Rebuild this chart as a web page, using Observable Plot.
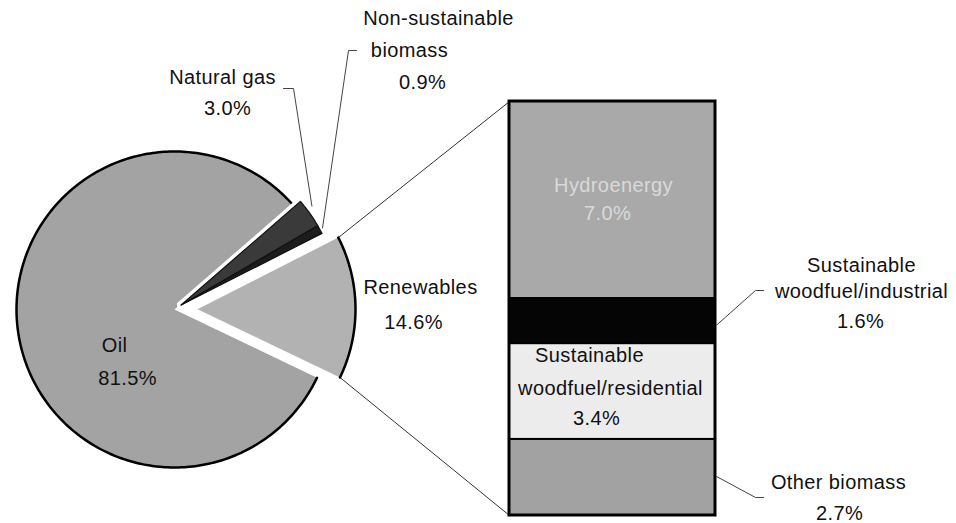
<!DOCTYPE html>
<html><head><meta charset="utf-8">
<script src="https://cdn.jsdelivr.net/npm/d3@7"></script>
<script src="https://cdn.jsdelivr.net/npm/@observablehq/plot@0.6"></script>
<style>html,body{margin:0;padding:0;background:#fff}</style>
</head><body><div id="chart"></div>
<script>
// ---- data ----
const pieCategories = ["Renewables", "Non-sustainable biomass", "Natural gas", "Oil"];
const pieValues = [14.6, 0.9, 3.0, 81.5];
const barCategories = ["Hydroenergy", "Sustainable woodfuel/industrial", "Sustainable woodfuel/residential", "Other biomass"];
const barValues = [7.0, 1.6, 3.4, 2.7];
const pieLabelLines = [["Renewables"], ["Non-sustainable", "biomass"], ["Natural gas"], ["Oil"]];
const barLabelLines = [["Hydroenergy"], ["Sustainable", "woodfuel/industrial"], ["Sustainable", "woodfuel/residential"], ["Other biomass"]];

// ---- layout / style ----
const W = 956, H = 523;
const C = [174, 309], R = 158;
const startDeg = -25.6;                    // lower edge of the renewables wedge (counter-clockwise)
const pieFill = {"Renewables": "#b2b2b2", "Non-sustainable biomass": "#1c1c1c", "Natural gas": "#3a3a3a", "Oil": "#a3a3a3"};
const explodeGroup = {"Renewables": "ren", "Non-sustainable biomass": "fos", "Natural gas": "fos", "Oil": "oil"};
const explodeDist = {ren: 23, fos: 8, oil: 0};
const barBox = {x1: 509, x2: 715, y1: 101, y2: 515};
const barFill = {"Hydroenergy": "#a9a9a9", "Sustainable woodfuel/industrial": "#050505", "Sustainable woodfuel/residential": "#ececec", "Other biomass": "#a2a2a2"};
// label placement: [x, y] per line (name lines..., value line)
const pieLabelPos = {
  "Renewables": [[420, 287], [413, 322]],
  "Non-sustainable biomass": [[438, 18], [409, 50], [422, 82]],
  "Natural gas": [[222, 77], [227, 108]],
  "Oil": [[114, 345], [127, 378]]
};
const barLabelPos = {
  "Hydroenergy": [[613, 185], [607, 213]],
  "Sustainable woodfuel/industrial": [[861, 265], [861, 291], [860, 321]],
  "Sustainable woodfuel/residential": [[589, 355], [610, 388], [596, 418]],
  "Other biomass": [[838, 482], [839, 513]]
};
const barLabelColor = {"Hydroenergy": "#d9d9d9"};

// ---- geometry from data ----
const total = d3.sum(pieValues);
const rad = d => d * Math.PI / 180;
let acc = startDeg;
const wedges = pieCategories.map((name, i) => {
  const a0 = acc, a1 = acc + pieValues[i] / total * 360;
  acc = a1;
  return {name, value: pieValues[i], a0, a1};
});
const groupRange = {};
for (const w of wedges) {
  const g = explodeGroup[w.name];
  groupRange[g] = groupRange[g] ? [Math.min(groupRange[g][0], w.a0), Math.max(groupRange[g][1], w.a1)] : [w.a0, w.a1];
}
for (const w of wedges) {
  const g = explodeGroup[w.name];
  const mid = rad((groupRange[g][0] + groupRange[g][1]) / 2);
  w.cx = C[0] + explodeDist[g] * Math.cos(mid);
  w.cy = C[1] - explodeDist[g] * Math.sin(mid);
}
const pt = (w, a, r) => ({name: w.name, x: w.cx + r * Math.cos(rad(a)), y: w.cy - r * Math.sin(rad(a))});
const arcPts = (w, r) => {
  const n = Math.max(2, Math.ceil((w.a1 - w.a0) / 1));
  return d3.range(n + 1).map(k => pt(w, w.a0 + (w.a1 - w.a0) * k / n, r));
};
const wedgePolys = wedges.flatMap(w => [{name: w.name, x: w.cx, y: w.cy}, ...arcPts(w, R), {name: w.name, x: w.cx, y: w.cy}]);
const arcLines = wedges.flatMap(w => arcPts(w, R));
const fossil = wedges.filter(w => explodeGroup[w.name] === "fos");
const fossilPolys = fossil.flatMap(w => [{name: w.name, x: w.cx, y: w.cy}, ...arcPts(w, R), {name: w.name, x: w.cx, y: w.cy}]);
const otherPolys = wedgePolys.filter(d => explodeGroup[d.name] !== "fos");

// bar segments
const barTotal = d3.sum(barValues);
const by = d3.scaleLinear([0, barTotal], [barBox.y1, barBox.y2]);
let bacc = 0;
const segs = barCategories.map((name, i) => {
  const s = {name, value: barValues[i], y1: by(bacc), y2: by(bacc + barValues[i]), x1: barBox.x1, x2: barBox.x2};
  bacc += barValues[i];
  return s;
});

// connectors renewables -> bar
const ren = wedges[0];
const connectors = [
  {k: "top", ...pt(ren, ren.a1, R)}, {k: "top", name: "", x: barBox.x1, y: barBox.y1},
  {k: "bot", ...pt(ren, ren.a0, R)}, {k: "bot", name: "", x: barBox.x1, y: barBox.y2}
];

// leader lines
const gas = wedges.find(w => w.name === "Natural gas");
const nsb = wedges.find(w => w.name === "Non-sustainable biomass");
const gasEnd = pt(gas, (gas.a0 + gas.a1) / 2 + 1.5, R + 6);
const nsbEnd = pt(nsb, (nsb.a0 + nsb.a1) / 2, R + 3);
const ind = segs[1], oth = segs[3];
const leaders = [
  {k: "g", x: 283, y: 88}, {k: "g", x: 293, y: 88}, {k: "g", x: gasEnd.x, y: gasEnd.y},
  {k: "n", x: 356, y: 50}, {k: "n", x: 348, y: 50}, {k: "n", x: nsbEnd.x, y: nsbEnd.y},
  {k: "i", x: barBox.x2 + 1, y: (ind.y1 + ind.y2) / 2 + 4}, {k: "i", x: 755, y: 290}, {k: "i", x: 763, y: 290},
  {k: "o", x: barBox.x2 + 1, y: (oth.y1 + oth.y2) / 2 - 1}, {k: "o", x: 755, y: 497}, {k: "o", x: 763, y: 497}
];

// labels
const labels = [];
pieCategories.forEach((name, i) => {
  const lines = [...pieLabelLines[i], pieValues[i].toFixed(1) + "%"];
  lines.forEach((t, j) => labels.push({text: t, x: pieLabelPos[name][j][0], y: pieLabelPos[name][j][1], color: "#111"}));
});
barCategories.forEach((name, i) => {
  const lines = [...barLabelLines[i], barValues[i].toFixed(1) + "%"];
  lines.forEach((t, j) => labels.push({text: t, x: barLabelPos[name][j][0], y: barLabelPos[name][j][1], color: barLabelColor[name] || "#111"}));
});

const chart = Plot.plot({
  width: W, height: H, margin: 0,
  x: {domain: [0, W], range: [0, W], axis: null},
  y: {domain: [0, H], range: [0, H], axis: null},
  style: {fontFamily: "'Liberation Sans', Arial, sans-serif", letterSpacing: "0.4px", background: "#fff"},
  marks: [
    Plot.line(connectors, {x: "x", y: "y", z: "k", stroke: "#333", strokeWidth: 1}),
    Plot.line(otherPolys, {x: "x", y: "y", z: "name", fill: d => pieFill[d.name], stroke: "none", curve: "linear"}),
    Plot.line(arcLines.filter(d => explodeGroup[d.name] !== "fos"), {x: "x", y: "y", z: "name", stroke: "#000", strokeWidth: 2.5}),
    // white halo separating the small exploded wedges from oil
    Plot.line(fossilPolys, {x: "x", y: "y", z: "name", fill: "#fff", stroke: "#fff", strokeWidth: 8, strokeLinejoin: "round"}),
    Plot.line(fossilPolys, {x: "x", y: "y", z: "name", fill: d => pieFill[d.name], stroke: "#111", strokeWidth: 1.2, strokeLinejoin: "round"}),
    Plot.rect(segs, {x1: "x1", x2: "x2", y1: "y1", y2: "y2", fill: d => barFill[d.name], stroke: "#000", strokeWidth: 2}),
    Plot.rect([barBox], {x1: "x1", x2: "x2", y1: "y1", y2: "y2", fill: "none", stroke: "#000", strokeWidth: 3}),
    Plot.line(leaders, {x: "x", y: "y", z: "k", stroke: "#444", strokeWidth: 1}),
    Plot.text(labels, {x: "x", y: "y", text: "text", fill: "color", fontSize: 20, textAnchor: "middle", lineAnchor: "middle"})
  ]
});
document.getElementById("chart").appendChild(chart);
</script>
</body></html>
